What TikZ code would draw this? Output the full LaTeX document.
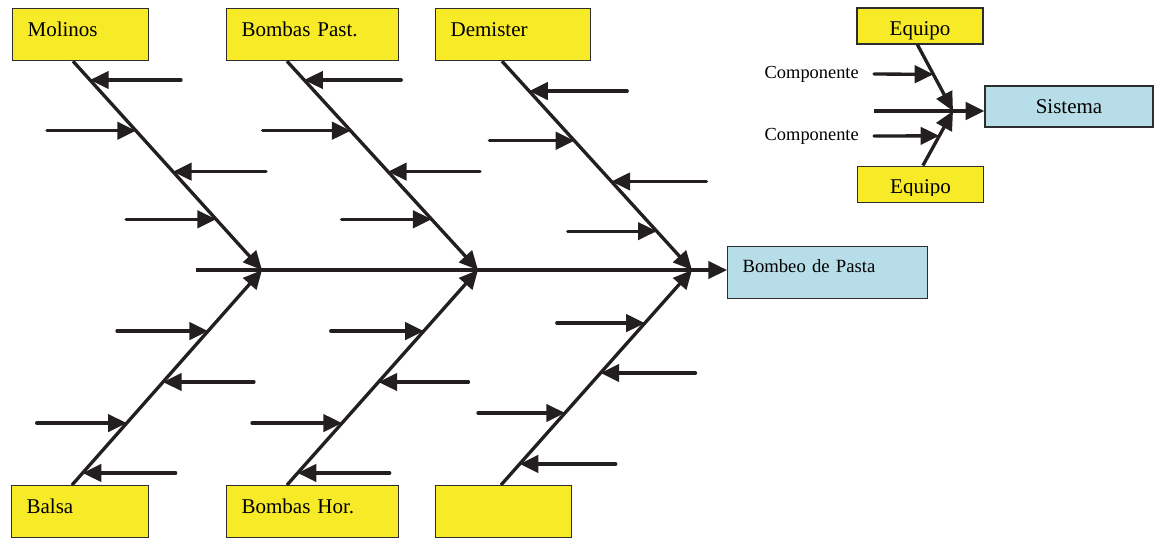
\documentclass[tikz,border=0pt]{standalone}
\usepackage{fontspec}
\setmainfont{Liberation Serif}
\usetikzlibrary{arrows.meta,calc}

\definecolor{boxyellow}{RGB}{247,234,38}
\definecolor{boxblue}{RGB}{183,222,232}
\definecolor{inkblack}{RGB}{35,31,32}
\definecolor{rimgray}{RGB}{45,45,45}

\tikzset{
  bone/.style={draw=inkblack, line width=2.5pt, -{Triangle[length=14pt,width=13pt]}},
  twig/.style={draw=inkblack, line width=2.5pt, line cap=round, {Triangle[length=14pt,width=13pt]}-},
  causebox/.style={draw=rimgray, line width=0.9pt, fill=boxyellow, anchor=north west,
    inner xsep=11.25pt, inner ysep=0pt, text height=21pt, text depth=18pt,
    text width=#1, align=left, font=\fontsize{15.75}{18}\selectfont},
  effectbox/.style={draw=rimgray, line width=0.9pt, fill=boxblue, anchor=north west,
    inner xsep=11.25pt, inner ysep=0pt, text height=19.5pt, text depth=19.5pt,
    text width=127.5pt, align=left, font=\fontsize{14}{16}\selectfont},
  sysbox/.style={draw=rimgray, line width=0.9pt, fill=boxblue, inner sep=0pt,
    minimum width=126pt, minimum height=30.75pt, font=\fontsize{15.75}{18}\selectfont},
  partbox/.style={draw=rimgray, line width=0.9pt, fill=boxyellow, inner xsep=0pt, inner ysep=0pt,
    minimum width=94.5pt, text height=20.25pt, text depth=6.75pt, font=\fontsize{15.75}{18}\selectfont},
  partlabel/.style={anchor=east, inner xsep=11.25pt, inner ysep=0pt,
    font=\fontsize{13.8}{16}\selectfont}
}

\begin{document}
\begin{tikzpicture}[x=0.75pt,y=-0.75pt]
\useasboundingbox (0,0) rectangle (1160,537);

% causes
\node[causebox=79.5pt] (molinos) at (12,8) {Molinos};
\node[causebox=106.5pt] (bpast) at (226,8) {Bombas Past.};
\node[causebox=93.75pt] (demister) at (435,8) {Demister};
\node[causebox=80.25pt] (balsa) at (11,485) {Balsa};
\node[causebox=106.5pt] (bhor) at (226,485) {Bombas Hor.};
\node[causebox=79.5pt] (blank) at (435,485) {};

% effect
\node[effectbox] (bombeo) at (727,246) {Bombeo de Pasta};

% spine and bones
\coordinate (tail) at (196,270);
\coordinate (j1) at (262,270);
\coordinate (j2) at (478,270);
\coordinate (j3) at (692,270);
\coordinate (m0) at ($(molinos.south west)+(61,0)$);
\coordinate (p0) at ($(bpast.south west)+(61,0)$);
\coordinate (d0) at ($(demister.south west)+(67,0)$);
\coordinate (b0) at ($(balsa.north west)+(61,0)$);
\coordinate (h0) at ($(bhor.north west)+(61,0)$);
\coordinate (x0) at ($(blank.north west)+(66,0)$);

\draw[bone] (tail) -- (tail -| bombeo.west);
\draw[bone] (m0) -- (j1);
\draw[bone] (p0) -- (j2);
\draw[bone] (d0) -- (j3);
\draw[bone] (b0) -- (j1);
\draw[bone] (h0) -- (j2);
\draw[bone] (x0) -- (j3);

% small causes
\foreach \f/\d in {0.09/91, 0.333/-89, 0.529/93, 0.757/-90}
  \draw[twig] ($(m0)!\f!(j1)$) -- ++(\d,0);
\foreach \f/\d in {0.09/97, 0.333/-88, 0.529/92, 0.757/-90}
  \draw[twig] ($(p0)!\f!(j2)$) -- ++(\d,0);
\foreach \f/\d in {0.143/98, 0.381/-85, 0.576/95, 0.814/-89}
  \draw[twig] ($(d0)!\f!(j3)$) -- ++(\d,0);
\foreach \f/\d in {0.716/-91, 0.479/91, 0.288/-90, 0.056/93}
  \draw[twig] ($(b0)!\f!(j1)$) -- ++(\d,0);
\foreach \f/\d in {0.716/-93, 0.479/90, 0.288/-90, 0.056/92}
  \draw[twig] ($(h0)!\f!(j2)$) -- ++(\d,0);
\foreach \f/\d in {0.753/-88, 0.521/95, 0.335/-87, 0.098/96}
  \draw[twig] ($(x0)!\f!(j3)$) -- ++(\d,0);

% legend
\node[sysbox] (sistema) at (1069,106.5) {Sistema};
\node[partbox] (eqtop) at (920,26) {Equipo};
\node[partbox, text height=20.8pt] (eqbot) at (920.5,184.5) {};
\begin{scope}
  \clip (eqbot.north west) rectangle ($(eqbot.south east)+(0,-8)$);
  \node[anchor=base, font=\fontsize{15.75}{18}\selectfont] (eqbottxt) at ($(eqbot.south)+(0,-10)$) {Equipo};
\end{scope}
\node[partlabel] (comp1) at (874,74) {Componente};
\node[partlabel] (comp2) at (874,136) {Componente};

\coordinate (e0) at ($(eqtop.south west)+(61,0)$);
\coordinate (e1) at ($(eqbot.north west)+(66,0)$);
\coordinate (hub) at (953,111);
\coordinate (feed) at (874,111);
\draw[bone] (e0) -- (hub);
\draw[bone] (e1) -- (hub);
\draw[bone] (feed) -- (feed -| sistema.west);
\draw[twig] ($(e0)!0.448!(hub)$) -- (comp1.east);
\draw[twig] ($(e1)!0.545!(hub)$) -- (comp2.east);
\end{tikzpicture}
\end{document}
